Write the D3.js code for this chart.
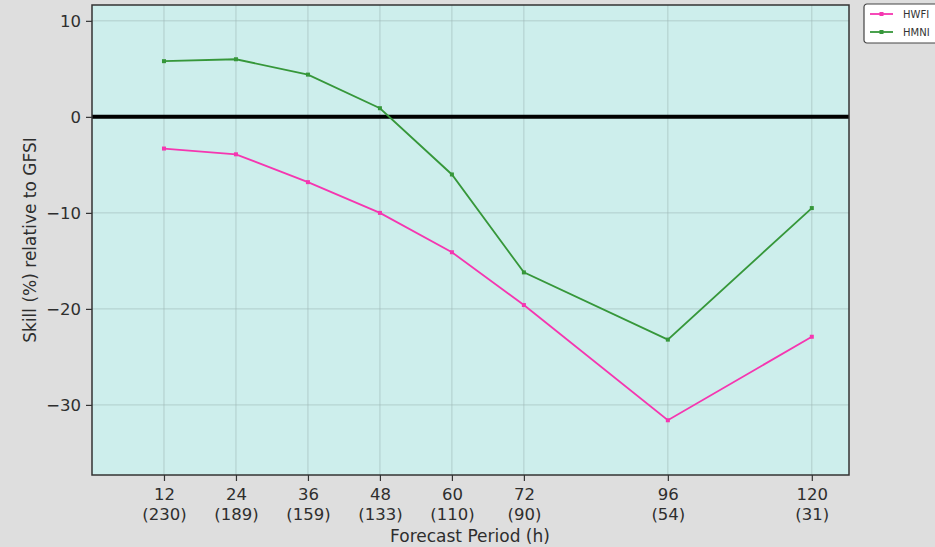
<!DOCTYPE html>
<html>
<head>
<meta charset="utf-8">
<script src="https://cdn.jsdelivr.net/npm/d3@7"></script>
<style>
  body { margin: 0; background: #dedede; }
  svg { display: block; font-family: "DejaVu Sans", sans-serif; }
</style>
</head>
<body>
<svg id="chart" width="935" height="547"></svg>
<script>
// forecast hours and number of cases
var hours = [12, 24, 36, 48, 60, 72, 96, 120];
var cases = [230, 189, 159, 133, 110, 90, 54, 31];
var hwfi = [-3.3, -3.9, -6.8, -10.0, -14.1, -19.6, -31.6, -22.9];
var hmni = [5.8, 6.0, 4.4, 0.9, -6.0, -16.2, -23.2, -9.5];
var yTicks = [10, 0, -10, -20, -30];

var series = [
  {name: "HWFI", values: hwfi, color: "#f536b0"},
  {name: "HMNI", values: hmni, color: "#36973a"}
];

var svg = d3.select("#chart");
// plot box (window.top is taken, so padTop)
var padLeft = 92, padRight = 849, padTop = 5, padBottom = 475;

var x = d3.scaleLinear().domain([0, 126.2]).range([padLeft, padRight]);
var y = d3.scaleLinear().domain([11.65, -37.3]).range([padTop, padBottom]);

svg.append("rect").attr("width", 935).attr("height", 547).attr("fill", "#dedede");
svg.append("rect")
  .attr("x", padLeft).attr("y", padTop)
  .attr("width", padRight - padLeft).attr("height", padBottom - padTop)
  .attr("fill", "#cdeeec");

// grid
var grid = svg.append("g");
hours.forEach(function(h){
  grid.append("line")
    .attr("x1", x(h)).attr("x2", x(h)).attr("y1", padTop).attr("y2", padBottom)
    .attr("stroke", "#9fb8b6").attr("stroke-opacity", 0.6).attr("stroke-width", 1);
});
yTicks.forEach(function(v){
  grid.append("line")
    .attr("x1", padLeft).attr("x2", padRight).attr("y1", y(v)).attr("y2", y(v))
    .attr("stroke", "#9fb8b6").attr("stroke-opacity", 0.6).attr("stroke-width", 1);
});

// zero line
svg.append("line")
  .attr("x1", padLeft).attr("x2", padRight).attr("y1", y(0)).attr("y2", y(0))
  .attr("stroke", "#000").attr("stroke-width", 4);

// series
var line = d3.line()
  .x(function(d, i){ return x(hours[i]); })
  .y(function(d){ return y(d); });

series.forEach(function(s){
  svg.append("path").datum(s.values)
    .attr("d", line)
    .attr("fill", "none")
    .attr("stroke", s.color)
    .attr("stroke-width", 1.8);
  svg.selectAll(null).data(s.values).enter().append("rect")
    .attr("x", function(d, i){ return x(hours[i]) - 2; })
    .attr("y", function(d){ return y(d) - 2; })
    .attr("width", 4).attr("height", 4)
    .attr("fill", s.color);
});

// frame
svg.append("rect")
  .attr("x", padLeft).attr("y", padTop)
  .attr("width", padRight - padLeft).attr("height", padBottom - padTop)
  .attr("fill", "none").attr("stroke", "#333").attr("stroke-width", 1.5);

// y axis
var yAxis = svg.append("g").attr("transform", "translate(" + padLeft + ",0)")
  .call(d3.axisLeft(y).tickValues(yTicks).tickSize(6).tickPadding(5)
    .tickFormat(function(d){ return d < 0 ? "\u2212" + Math.abs(d) : d; }));
yAxis.select(".domain").remove();
yAxis.selectAll("line").attr("stroke", "#333").attr("stroke-width", 1.2);
yAxis.selectAll("text").attr("font-size", 16.5).attr("fill", "#2e2e2e").attr("font-family", "DejaVu Sans");

// x axis, two line labels
var xAxis = svg.append("g").attr("transform", "translate(0," + padBottom + ")")
  .call(d3.axisBottom(x).tickValues(hours).tickSize(6).tickFormat(""));
xAxis.select(".domain").remove();
xAxis.selectAll("line").attr("stroke", "#333").attr("stroke-width", 1.2);
xAxis.selectAll(".tick").each(function(d, i){
  var t = d3.select(this).append("text")
    .attr("fill", "#2e2e2e").attr("font-size", 16.5).attr("text-anchor", "middle")
    .attr("font-family", "DejaVu Sans");
  t.append("tspan").attr("x", 0).attr("y", 25).text(d);
  t.append("tspan").attr("x", 0).attr("y", 45).text("(" + cases[i] + ")");
});

// axis labels
svg.append("text")
  .attr("x", 470).attr("y", 542)
  .attr("text-anchor", "middle").attr("font-size", 17).attr("fill", "#2e2e2e")
  .text("Forecast Period (h)");
svg.append("text")
  .attr("transform", "translate(36," + (padTop + padBottom) / 2 + ") rotate(-90)")
  .attr("text-anchor", "middle").attr("font-size", 17).attr("fill", "#2e2e2e")
  .text("Skill (%) relative to GFSI");

// legend
var lg = svg.append("g").attr("transform", "translate(864,4)");
lg.append("rect").attr("x", 0).attr("y", 0).attr("width", 90).attr("height", 39).attr("rx", 3)
  .attr("fill", "#fff").attr("stroke", "#444").attr("stroke-width", 1.2);
series.forEach(function(s, i){
  var yy = 10 + i * 18;
  lg.append("line").attr("x1", 6).attr("x2", 29).attr("y1", yy).attr("y2", yy)
    .attr("stroke", s.color).attr("stroke-width", 1.8);
  lg.append("rect").attr("x", 15.5).attr("y", yy - 2).attr("width", 4).attr("height", 4).attr("fill", s.color);
  lg.append("text").attr("x", 39).attr("y", yy + 3.5).attr("font-size", 10).attr("fill", "#333").text(s.name);
});
</script>
</body>
</html>
